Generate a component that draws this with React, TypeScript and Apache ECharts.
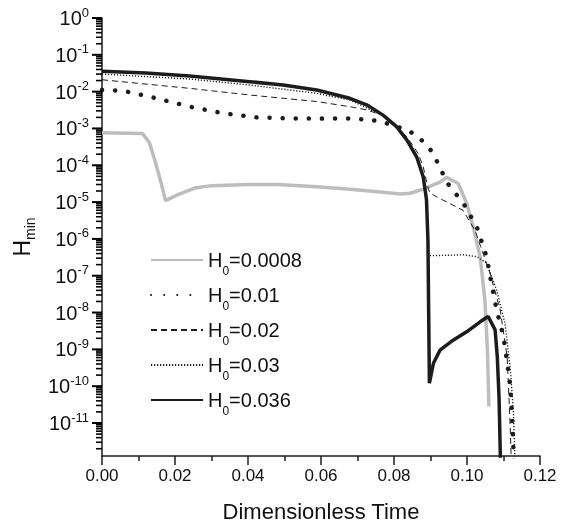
import React, { useEffect, useRef } from 'react';
import * as echarts from 'echarts';

// Legend / series names
const seriesNames = ['H0=0.0008', 'H0=0.01', 'H0=0.02', 'H0=0.03', 'H0=0.036'];
const legendValues = ['0.0008', '0.01', '0.02', '0.03', '0.036'];

// H0 = 0.0008 (grey)
const t0008 = [0, 0.0111, 0.0130, 0.0147, 0.0162, 0.0174, 0.0208, 0.0254, 0.0300, 0.0405, 0.0482, 0.0588, 0.0679, 0.0770, 0.0816, 0.0844, 0.0880, 0.0926, 0.0944, 0.0976, 0.0999, 0.1017, 0.1036, 0.1049, 0.1056, 0.1060];
const h0008 = [7.7e-4, 7.3e-4, 4.1e-4, 1.15e-4, 3.3e-5, 1.1e-5, 1.6e-5, 2.4e-5, 2.8e-5, 3.0e-5, 3.0e-5, 2.6e-5, 2.24e-5, 1.86e-5, 1.66e-5, 1.74e-5, 2.24e-5, 3.5e-5, 4.7e-5, 3.2e-5, 9.3e-6, 2.1e-6, 3.3e-7, 2.2e-8, 9.5e-10, 2.8e-11];

// H0 = 0.01 (large dots)
const t001 = [0, 0.0057, 0.0149, 0.0240, 0.0331, 0.0423, 0.0514, 0.0606, 0.0697, 0.0729, 0.0757, 0.0780, 0.0807, 0.0825, 0.0862, 0.0889, 0.0908, 0.0921, 0.0935, 0.0944, 0.0990, 0.1027, 0.1054, 0.1065, 0.1081, 0.1100, 0.1118, 0.1124, 0.1129];
const h001 = [1.11e-2, 1.06e-2, 6.6e-3, 3.9e-3, 2.6e-3, 2.0e-3, 1.88e-3, 1.85e-3, 1.85e-3, 1.7e-3, 1.6e-3, 1.38e-3, 1.12e-3, 1.0e-3, 6.6e-4, 3.5e-4, 2.1e-4, 1.07e-4, 5.6e-5, 3.5e-5, 9.3e-6, 2.1e-6, 3.2e-7, 7.9e-8, 1.2e-8, 2.2e-9, 1.2e-10, 1.26e-11, 6.3e-13];

// H0 = 0.02 (dashed)
const t002 = [0, 0.0240, 0.0405, 0.0496, 0.0588, 0.0679, 0.0725, 0.0770, 0.0789, 0.0835, 0.0866, 0.0880, 0.0893, 0.0898, 0.0916, 0.0989, 0.1022, 0.1063, 0.1091, 0.1110, 0.1118, 0.1122];
const h002 = [2.1e-2, 1.23e-2, 8.1e-3, 6.6e-3, 5.4e-3, 3.9e-3, 3.2e-3, 2.24e-3, 1.5e-3, 6.0e-4, 2.1e-4, 9.1e-5, 2.5e-5, 1.8e-5, 1.4e-5, 6.0e-6, 1.7e-6, 1.17e-7, 1.17e-8, 6.3e-10, 1.0e-11, 6.3e-13];

// H0 = 0.03 (fine dots)
const t003 = [0, 0.0240, 0.0405, 0.0588, 0.0679, 0.0770, 0.0807, 0.0835, 0.0862, 0.0880, 0.0889, 0.0892, 0.0895, 0.0950, 0.0990, 0.1027, 0.1054, 0.1081, 0.1104, 0.1118, 0.1127, 0.1132];
const h003 = [3.0e-2, 2.2e-2, 1.51e-2, 9.0e-3, 5.9e-3, 2.24e-3, 1.07e-3, 4.7e-4, 1.58e-4, 4.5e-5, 1.0e-5, 1.0e-6, 3.5e-7, 3.6e-7, 3.7e-7, 3.3e-7, 2.2e-7, 4.1e-8, 5.1e-9, 3.4e-10, 2.2e-11, 6.3e-13];

// H0 = 0.036 (thick solid)
const t0036 = [0, 0.0120, 0.0240, 0.0405, 0.0496, 0.0588, 0.0679, 0.0725, 0.0770, 0.0807, 0.0835, 0.0862, 0.0880, 0.0889, 0.0893, 0.0895, 0.0897, 0.0908, 0.0926, 0.0962, 0.0999, 0.1036, 0.1058, 0.1077, 0.1083, 0.1088, 0.1092];
const h0036 = [3.6e-2, 3.2e-2, 2.66e-2, 1.86e-2, 1.51e-2, 1.11e-2, 6.6e-3, 4.4e-3, 2.3e-3, 1.12e-3, 4.9e-4, 1.7e-4, 4.9e-5, 1.15e-5, 9.3e-7, 1.0e-8, 1.2e-10, 4.2e-10, 9.5e-10, 1.78e-9, 3.0e-9, 5.6e-9, 7.8e-9, 3.4e-9, 6.3e-10, 4.3e-11, 6.3e-13];

const allT = [t0008, t001, t002, t003, t0036];
const allH = [h0008, h001, h002, h003, h0036];

// Axis ranges and ticks
const xMin = 0;
const xMax = 0.12;
const xInterval = 0.02;
const yMin = 1.27e-12;
const yMax = 1;
const yExponents = [0, -1, -2, -3, -4, -5, -6, -7, -8, -9, -10, -11];
const minorExponents = [-1, -2, -3, -4, -5, -6, -7, -8, -9, -10, -11, -12];
const minorMultipliers = [2, 3, 4, 5, 6, 7, 8, 9];

const yMajorTicks = yExponents.map((e) => Math.pow(10, e));
const yMinorTicks: number[] = [];
minorExponents.forEach((e) => {
  minorMultipliers.forEach((k) => {
    const v = k * Math.pow(10, e);
    if (v >= yMin && v <= yMax) yMinorTicks.push(v);
  });
});

const FONT = '"Liberation Sans", Arial, sans-serif';
const BLACK = '#1c1c1c';
const GREY = '#bdbdbd';

const lineStyles: any[] = [
  { color: GREY, width: 3.5, type: 'solid' },
  { color: BLACK, width: 4.5, type: [0.1, 13], cap: 'round' },
  { color: BLACK, width: 1, type: [6, 4] },
  { color: BLACK, width: 1.4, type: [1.2, 1.8] },
  { color: BLACK, width: 3.5, type: 'solid' },
];

export default function App() {
  const ref = useRef<HTMLDivElement>(null);
  useEffect(() => {
    if (!ref.current) return;
    const chart = echarts.init(ref.current, null, { renderer: 'svg' });
    const series: any[] = seriesNames.map((name, i) => ({
      name,
      type: 'line',
      symbol: 'none',
      showSymbol: false,
      clip: true,
      data: allT[i].map((t, j) => [t, allH[i][j]]),
      lineStyle: lineStyles[i],
      itemStyle: { color: lineStyles[i].color },
      z: 2 + i,
    }));

    const labelFormatter = (v: number) => {
      const e = Math.log10(v);
      const r = Math.round(e);
      if (Math.abs(e - r) > 1e-6) return '';
      return '{b|10}{s|' + r + '}';
    };
    chart.setOption({
      animation: false,
      textStyle: { fontFamily: FONT },
      grid: { left: 102, right: 27, top: 18, bottom: 75, outerBoundsMode: 'none', containLabel: false },
      legend: {
        orient: 'vertical',
        left: 145,
        top: 245,
        itemWidth: 52,
        itemHeight: 14,
        itemGap: 8,
        data: seriesNames,
        itemStyle: { color: 'rgba(0,0,0,0)', borderColor: 'rgba(0,0,0,0)', borderWidth: 0, opacity: 0 },
        formatter: (name: string) => {
          const i = seriesNames.indexOf(name);
          return 'H{s|0}=' + legendValues[i];
        },
        textStyle: {
          fontFamily: FONT,
          fontSize: 20,
          color: '#111',
          rich: { s: { fontFamily: FONT, fontSize: 12, color: '#111', padding: [22, 0, 0, 0] } },
        },
      },
      xAxis: {
        type: 'value',
        min: xMin,
        max: xMax,
        interval: xInterval,
        name: 'Dimensionless Time',
        nameLocation: 'middle',
        nameGap: 44,
        nameTextStyle: { fontFamily: FONT, fontSize: 22, color: '#111' },
        axisLine: { lineStyle: { color: BLACK, width: 1.5 } },
        axisTick: { length: 9, lineStyle: { color: BLACK, width: 1.5 } },
        minorTick: { show: true, splitNumber: 2, length: 5, lineStyle: { color: BLACK, width: 1.5 } },
        splitLine: { show: false },
        axisLabel: {
          fontFamily: FONT,
          fontSize: 17,
          color: '#111',
          margin: 11,
          formatter: (v: number) => v.toFixed(2),
        },
      },
      yAxis: {
        type: 'log',
        logBase: 10,
        min: yMin,
        max: yMax,
        name: 'H{s|min}',
        nameLocation: 'middle',
        nameGap: 62,
        nameRotate: 90,
        nameTextStyle: {
          fontFamily: FONT,
          fontSize: 23,
          color: '#111',
          rich: { s: { fontFamily: FONT, fontSize: 14, color: '#111', padding: [16, 0, 0, 0] } },
        },
        axisLine: { lineStyle: { color: BLACK, width: 1.5 } },
        axisTick: { show: false },
        minorTick: { show: false },
        splitLine: { show: false },
        axisLabel: {
          margin: 13,
          customValues: yMajorTicks,
          formatter: labelFormatter,
          rich: {
            b: { fontFamily: FONT, fontSize: 20, color: '#111' },
            s: { fontFamily: FONT, fontSize: 13, color: '#111', padding: [0, 0, 12, 0] },
          },
        },
      },
      series,
    });

    // y-axis tick marks placed through the axis scale (log decades and 2..9 subdivisions)
    const x0 = chart.convertToPixel({ xAxisIndex: 0 }, xMin) as number;
    const ticks: any[] = [];
    const addTicks = (values: number[], len: number, width: number) => {
      values.forEach((v) => {
        const y = chart.convertToPixel({ yAxisIndex: 0 }, v) as number;
        ticks.push({
          type: 'line',
          z: 100,
          shape: { x1: x0 - len, y1: y, x2: x0, y2: y },
          style: { stroke: '#000', lineWidth: width },
        });
      });
    };
    addTicks(yMajorTicks, 10, 2);
    addTicks(yMinorTicks, 6, 1.6);
    chart.setOption({ graphic: ticks });

    return () => chart.dispose();
  }, []);
  return <div ref={ref} style={{ position: 'fixed', left: 0, top: 0, width: 567, height: 531 }} />;
}
